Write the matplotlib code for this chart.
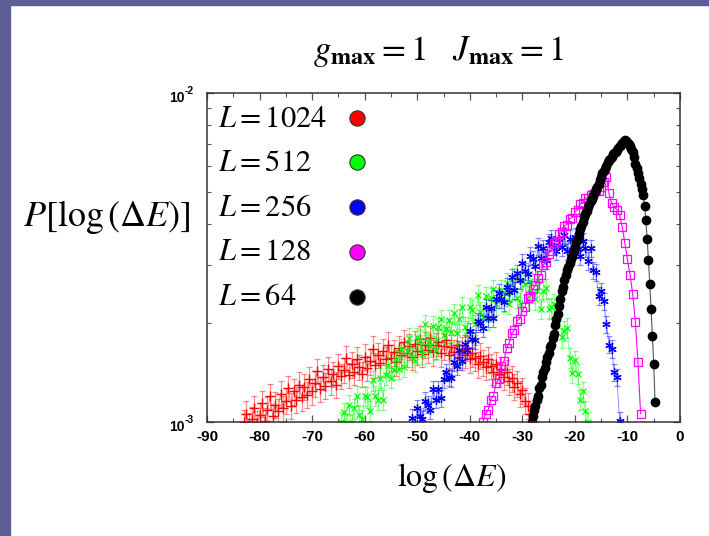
import numpy as np
import matplotlib
matplotlib.use('Agg')
import matplotlib.pyplot as plt
from matplotlib.ticker import LogLocator, NullFormatter, MultipleLocator
from matplotlib.patches import Rectangle

plt.rcParams['mathtext.fontset'] = 'stix'

# P[log(dE)] in units of 1e-3
x_1024 = np.arange(-83.0, -27.9, 0.5)
p_1024 = [1.00, 1.06, 0.98, 1.02, 1.10, 0.99, 1.05, 1.14, 1.01, 1.09,
          1.20, 1.04, 1.13, 1.08, 1.22, 1.10, 1.16, 1.27, 1.12, 1.24,
          1.17, 1.30, 1.19, 1.28, 1.21, 1.35, 1.24, 1.31, 1.43, 1.26,
          1.37, 1.29, 1.45, 1.33, 1.40, 1.30, 1.48, 1.38, 1.44, 1.56,
          1.39, 1.50, 1.42, 1.55, 1.47, 1.40, 1.58, 1.46, 1.53, 1.67,
          1.49, 1.60, 1.51, 1.64, 1.55, 1.72, 1.57, 1.63, 1.52, 1.68,
          1.60, 1.75, 1.62, 1.70, 1.58, 1.73, 1.64, 1.79, 1.61, 1.72,
          1.66, 1.80, 1.63, 1.71, 1.75, 1.62, 1.70, 1.78, 1.60, 1.69,
          1.63, 1.72, 1.58, 1.66, 1.60, 1.68, 1.55, 1.62, 1.57, 1.50,
          1.59, 1.52, 1.47, 1.55, 1.48, 1.42, 1.50, 1.40, 1.45, 1.37,
          1.42, 1.33, 1.36, 1.28, 1.31, 1.22, 1.25, 1.16, 1.12, 1.06,
          1.01]

x_512 = np.arange(-64.5, -17.4, 0.5)
p_512 = [1.00, 1.07, 0.99, 1.13, 0.99, 1.10, 1.20, 1.05, 1.02, 1.20,
         1.19, 1.08, 1.34, 1.20, 1.17, 1.36, 1.17, 1.39, 1.49, 1.36,
         1.44, 1.55, 1.45, 1.67, 1.47, 1.64, 1.80, 1.58, 1.53, 1.81,
         1.78, 1.61, 1.98, 1.75, 1.70, 1.96, 1.66, 1.94, 2.05, 1.84,
         1.92, 2.04, 1.88, 2.14, 1.86, 2.06, 2.24, 1.95, 1.89, 2.23,
         2.19, 1.98, 2.44, 2.16, 2.09, 2.41, 2.05, 2.39, 2.53, 2.28,
         2.38, 2.52, 2.33, 2.65, 2.29, 2.53, 2.75, 2.39, 2.30, 2.69,
         2.62, 2.35, 2.69, 2.47, 2.36, 2.68, 2.21, 2.50, 2.55, 2.21,
         2.23, 2.29, 2.03, 2.21, 1.81, 1.89, 1.93, 1.57, 1.41, 1.54,
         1.40, 1.17, 1.24, 1.08, 1.00]

x_256 = np.arange(-51.0, -11.4, 0.5)
p_256 = [1.03, 0.98, 1.10, 1.04, 1.02, 1.16, 1.13, 1.09, 1.26, 1.17,
         1.26, 1.18, 1.35, 1.42, 1.37, 1.36, 1.52, 1.48, 1.66, 1.53,
         1.73, 1.66, 1.89, 1.79, 1.77, 2.03, 2.00, 1.93, 2.23, 2.07,
         2.22, 2.07, 2.37, 2.47, 2.36, 2.32, 2.58, 2.48, 2.75, 2.52,
         2.83, 2.70, 3.05, 2.88, 2.82, 3.20, 3.13, 2.99, 3.42, 3.15,
         3.37, 3.11, 3.52, 3.62, 3.42, 3.30, 3.61, 3.40, 3.70, 3.30,
         3.61, 3.34, 3.66, 3.36, 3.20, 3.54, 3.38, 3.09, 3.37, 2.89,
         2.86, 2.42, 2.50, 2.33, 1.98, 1.72, 1.67, 1.42, 1.37, 1.01]

x_128 = np.arange(-37.5, -7.4, 0.5)
p_128 = [1.00, 1.06, 1.09, 1.17, 1.20, 1.31, 1.35, 1.48, 1.53, 1.68,
         1.74, 1.86, 1.90, 2.03, 2.06, 2.18, 2.24, 2.38, 2.41, 2.54,
         2.60, 2.74, 2.80, 3.00, 3.06, 3.24, 3.32, 3.50, 3.56, 3.74,
         3.78, 3.95, 3.98, 4.15, 4.18, 4.34, 4.42, 4.60, 4.62, 4.80,
         4.78, 4.90, 4.92, 5.05, 5.02, 5.18, 5.35, 5.55, 4.95, 4.62,
         4.50, 4.42, 4.25, 3.92, 3.50, 3.12, 2.80, 2.45, 2.02, 1.52,
         1.06]

x_64 = np.arange(-28.25, -4.7, 0.25)
p_64 = [1.00, 1.04, 1.09, 1.12, 1.17, 1.20, 1.27, 1.30, 1.37, 1.42,
        1.46, 1.52, 1.58, 1.62, 1.69, 1.72, 1.80, 1.85, 1.97, 2.05,
        2.13, 2.25, 2.36, 2.50, 2.58, 2.70, 2.79, 2.90, 2.96, 3.05,
        3.14, 3.20, 3.31, 3.40, 3.52, 3.60, 3.74, 3.85, 3.94, 4.05,
        4.19, 4.30, 4.38, 4.50, 4.61, 4.70, 4.76, 4.85, 4.99, 5.10,
        5.18, 5.30, 5.44, 5.55, 5.70, 5.80, 5.88, 6.00, 6.15, 6.25,
        6.30, 6.40, 6.52, 6.55, 6.64, 6.70, 6.82, 6.90, 6.95, 7.05,
        7.15, 7.22, 7.15, 7.10, 7.00, 6.90, 6.78, 6.60, 6.38, 6.10,
        5.90, 5.70, 5.50, 5.30, 5.10, 4.90, 4.55, 4.10, 3.60, 3.10,
        2.62, 2.20, 1.82, 1.50, 1.15]

sizes = ['1024', '512', '256', '128', '64']
colors = ['#ff0000', '#00ff00', '#0000ff', '#ff00ff', '#000000']
rel_err = [0.09, 0.07, 0.06]

W, H = 709, 536
fig = plt.figure(figsize=(W / 100, H / 100), dpi=100)
fig.patch.set_facecolor('white')
# slide border
fig.patches.append(Rectangle((0, 0), 10 / W, 1, transform=fig.transFigure,
                             color='#5e5e96', zorder=0))
fig.patches.append(Rectangle((0, 1 - 5 / H), 1, 5 / H, transform=fig.transFigure,
                             color='#5e5e96', zorder=0))

ax = fig.add_axes([207 / W, 1 - 422 / H, 473 / W, 329 / H])

series = [(x_1024, p_1024, '+', 7, 1.0), (x_512, p_512, 'x', 5, 0.9),
          (x_256, p_256, (6, 2, 0), 6, 0.9)]
for (xs, ps, mk, ms, mw), c, r in zip(series, colors[:3], rel_err):
    ys = np.array(ps) * 1e-3
    ax.errorbar(xs, ys, yerr=ys * r, fmt='none', ecolor=c, alpha=0.45,
                elinewidth=0.9, capsize=2.5, capthick=0.9)
    ax.plot(xs, ys, '-', color=c, lw=0.6, alpha=0.5)
    ax.plot(xs, ys, linestyle='none', marker=mk, color=c, ms=ms, mew=mw)

ax.plot(x_128, np.array(p_128) * 1e-3, '-', color=colors[3], lw=0.8)
ax.plot(x_128, np.array(p_128) * 1e-3, 's', mfc='none', mec=colors[3], ms=6, mew=0.9)
ax.plot(x_64, np.array(p_64) * 1e-3, '-', color='#555555', lw=0.8)
ax.plot(x_64, np.array(p_64) * 1e-3, 'o', color='black', ms=6)

ax.set_yscale('log')
ax.set_xlim(-90, 0)
ax.set_ylim(1e-3, 1e-2)

xt = list(range(-90, 1, 10))
ax.set_xticks(xt)
ax.set_xticklabels([str(v) for v in xt], fontfamily='Liberation Sans',
                   fontweight='bold', fontsize=11)
ax.xaxis.set_minor_locator(MultipleLocator(5))
ax.set_yticks([1e-3, 1e-2])
ax.set_yticklabels([])
ax.yaxis.set_minor_locator(LogLocator(base=10, subs=range(2, 10)))
ax.yaxis.set_minor_formatter(NullFormatter())
ax.tick_params(which='both', direction='in', top=True, right=True, color='#555555')
ax.tick_params(axis='x', which='major', pad=6)
ax.tick_params(which='major', length=5, width=0.9)
ax.tick_params(which='minor', length=3, width=0.8)
for s in ax.spines.values():
    s.set_color('#333333')
    s.set_linewidth(1.1)

# y tick labels as 10 with a raised exponent
for exp_txt, ypx in [('-3', 422), ('-2', 93)]:
    fig.text(185 / W, 1 - (ypx + 5) / H, '10', ha='right', va='center',
             fontfamily='Liberation Sans', fontweight='bold', fontsize=10)
    fig.text(185 / W, 1 - (ypx - 2) / H, exp_txt, ha='left', va='center',
             fontfamily='Liberation Sans', fontweight='bold', fontsize=7.5)

# legend: label then dot
leg_y = [0.924, 0.790, 0.653, 0.517, 0.380]
for lab, c, yy in zip(sizes, colors, leg_y):
    ax.text(0.023, yy, r'$L = %s$' % lab, transform=ax.transAxes,
            ha='left', va='center', fontsize=22)
    ax.plot([0.317], [yy], 'o', transform=ax.transAxes, ms=11,
            mfc=c, mec='#333333', mew=0.8, clip_on=False)

fig.text(438 / W, 1 - 60 / H, r'$g_{\mathbf{max}} = 1\quad J_{\mathbf{max}} = 1$',
         ha='center', va='baseline', fontsize=25)
fig.text(107 / W, 1 - 217 / H, r'$P\left[\log\left(\Delta E\right)\right]$',
         ha='center', va='center', fontsize=26)
fig.text(452 / W, 1 - 478 / H, r'$\log\left(\Delta E\right)$',
         ha='center', va='center', fontsize=23)

fig.savefig('out.png', dpi=100)
